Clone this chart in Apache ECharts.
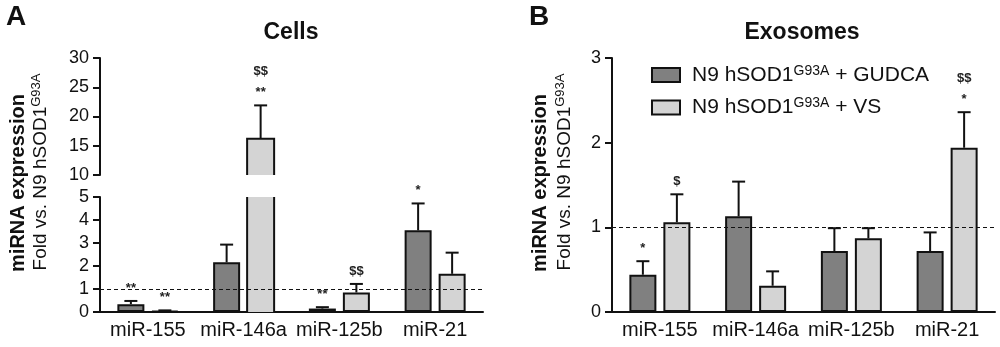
<!DOCTYPE html>
<html lang="en">
<head>
<meta charset="UTF-8">
<title>miRNA expression</title>
<style>
  html, body { margin: 0; padding: 0; background: #fff; }
  #main { width: 1000px; height: 347px; }
</style>
</head>
<body>
<div id="main"></div>
<script src="https://cdn.jsdelivr.net/npm/echarts@6/dist/echarts.min.js"></script>
<script>
// ---- data ----
const categories = ['miR-155', 'miR-146a', 'miR-125b', 'miR-21'];

// A: cells (mean, SEM)
const cellsGudca = [0.34, 2.16, 0.15, 3.55];
const cellsGudcaSem = [0.14, 0.77, 0.06, 1.17];
const cellsVs = [0.05, 16.2, 0.85, 1.66];
const cellsVsSem = [0.02, 5.7, 0.37, 0.92];
const cellsGudcaSig = ['**', '', '**', '*'];
const cellsVsSig = ['**', '$$\n**', '$$', ''];

// B: exosomes (mean, SEM)
const exoGudca = [0.44, 1.13, 0.72, 0.72];
const exoGudcaSem = [0.16, 0.41, 0.27, 0.22];
const exoVs = [1.06, 0.31, 0.87, 1.94];
const exoVsSem = [0.33, 0.17, 0.12, 0.42];
const exoGudcaSig = ['*', '', '', ''];
const exoVsSig = ['$', '', '', '$$\n*'];

const FONT = '"Liberation Sans", Arial, sans-serif';
const INK = '#111';
const DARK = '#808080';
const LIGHT = '#d4d4d4';
const BAR_W = 27;
const GAP = 7;
const CAP = 6.5;

function yAx(grid, min, max, step) {
  return {
    type: 'value', gridIndex: grid, min: min, max: max, interval: step,
    axisLine: { show: true, lineStyle: { color: INK, width: 2 } },
    axisTick: { show: true, length: 7, lineStyle: { color: INK, width: 2 } },
    axisLabel: { color: INK, fontSize: 18, fontFamily: FONT, margin: 11 },
    splitLine: { show: false }
  };
}

function xAx(grid, show) {
  return {
    type: 'category', gridIndex: grid, data: categories, show: show,
    axisLine: { lineStyle: { color: INK, width: 2 } },
    axisTick: { alignWithLabel: true, interval: 0, length: 6, lineStyle: { color: INK, width: 2 } },
    axisLabel: { interval: 0, color: INK, fontSize: 20, fontFamily: FONT, margin: 8 }
  };
}

// bars that run past the segment edge get no border; their open outline is drawn by the custom series
function bars(name, grid, values, lo, hi, color, refLine) {
  const data = values.map(v => {
    if (v === '-') return v;
    const broken = v > hi || (v >= lo && lo > 0);
    return broken ? { value: v, itemStyle: { borderWidth: 0 } } : v;
  });
  const s = {
    name: name, type: 'bar', xAxisIndex: grid, yAxisIndex: grid, data: data,
    barWidth: BAR_W, barGap: (GAP / BAR_W * 100) + '%', clip: true, silent: true,
    itemStyle: { color: color, borderColor: INK, borderWidth: 2 }
  };
  if (refLine) {
    s.markLine = {
      silent: true, symbol: 'none', label: { show: false },
      lineStyle: { color: INK, type: [4, 3], width: 1 },
      data: [{ yAxis: 1 }]
    };
  }
  return s;
}

// whisker (upper only) + cap + significance marks; open outline for broken bars
function errors(name, grid, means, sems, sigs, offset, lo, hi) {
  return {
    name: name, type: 'custom', xAxisIndex: grid, yAxisIndex: grid, z: 4, silent: true,
    data: means.map((m, i) => [i, m]),
    renderItem: function (params, api) {
      const i = params.dataIndex;
      const m = means[i];
      const ln = { stroke: INK, lineWidth: 2, fill: null };
      const x = api.coord([i, lo])[0] + offset;
      const yLo = api.coord([i, lo])[1];
      const yHi = api.coord([i, hi])[1];
      const l = x - BAR_W / 2, r = x + BAR_W / 2;
      if (m > hi) {
        // bar continues above this segment: sides only
        return {
          type: 'group', children: [
            { type: 'line', shape: { x1: l, y1: yLo, x2: l, y2: yHi }, style: ln },
            { type: 'line', shape: { x1: r, y1: yLo, x2: r, y2: yHi }, style: ln }
          ]
        };
      }
      if (m < lo) return;
      const p0 = api.coord([i, m]);
      const p1 = api.coord([i, m + sems[i]]);
      const kids = [
        { type: 'line', shape: { x1: x, y1: p0[1], x2: x, y2: p1[1] }, style: ln },
        { type: 'line', shape: { x1: x - CAP, y1: p1[1], x2: x + CAP, y2: p1[1] }, style: ln }
      ];
      if (lo > 0) {
        // bar comes up from the lower segment: no bottom edge
        kids.push({ type: 'polyline', shape: { points: [[l, yLo], [l, p0[1]], [r, p0[1]], [r, yLo]] }, style: ln });
      }
      const lines = sigs[i] ? sigs[i].split('\n').reverse() : [];
      lines.forEach(function (t, k) {
        kids.push({
          type: 'text', x: x, y: p1[1] - 13 - k * 21,
          style: { text: t, fill: '#222', font: 'bold 13px ' + FONT, align: 'center', verticalAlign: 'middle' }
        });
      });
      return { type: 'group', children: kids };
    }
  };
}

const above10 = v => (v > 10 ? v : '-');
const half = (BAR_W + GAP) / 2;

function axisTitle(boldX, foldX) {
  return [
    {
      type: 'text', x: boldX, y: 183, rotation: Math.PI / 2,
      style: { text: 'miRNA expression', font: 'bold 20px ' + FONT, fill: INK, align: 'center', verticalAlign: 'middle' }
    },
    {
      type: 'text', x: foldX, y: 172, rotation: Math.PI / 2,
      style: {
        text: '{n|Fold vs. N9 hSOD1}{s|G93A}', align: 'center', verticalAlign: 'middle',
        rich: {
          n: { fontSize: 19, fontFamily: FONT, fill: INK, lineHeight: 22 },
          s: { fontSize: 13, fontFamily: FONT, fill: INK, verticalAlign: 'top', lineHeight: 22 }
        }
      }
    }
  ];
}

function heading(x, y, text, size) {
  return {
    type: 'text', x: x, y: y,
    style: { text: text, font: 'bold ' + size + 'px ' + FONT, fill: INK, align: 'center', verticalAlign: 'middle' }
  };
}

const chart = echarts.init(document.getElementById('main'));
chart.setOption({
  animation: false,
  backgroundColor: '#fff',
  grid: [
    { left: 100, top: 58, width: 383, height: 117 },
    { left: 100, top: 197, width: 383, height: 115 },
    { left: 612, top: 58, width: 383, height: 254 }
  ],
  xAxis: [xAx(0, false), xAx(1, true), xAx(2, true)],
  yAxis: [yAx(0, 10, 30, 5), yAx(1, 0, 5, 1), yAx(2, 0, 3, 1)],
  legend: {
    data: ['GUDCA', 'VS'], orient: 'vertical', left: 646, top: 59,
    itemWidth: 28, itemHeight: 14, itemGap: 11, icon: 'rect', selectedMode: false,
    formatter: n => '{t|N9 hSOD1}{s|G93A}{t| + ' + n + '}',
    textStyle: {
      padding: [0, 0, 0, 7],
      rich: {
        t: { fontSize: 21, fontFamily: FONT, color: INK, lineHeight: 22 },
        s: { fontSize: 14, fontFamily: FONT, color: INK, verticalAlign: 'top', lineHeight: 22 }
      }
    }
  },
  series: [
    bars('GUDCA', 0, cellsGudca.map(above10), 10, 30, DARK),
    bars('VS', 0, cellsVs.map(above10), 10, 30, LIGHT),
    bars('GUDCA', 1, cellsGudca, 0, 5, DARK),
    bars('VS', 1, cellsVs, 0, 5, LIGHT, true),
    bars('GUDCA', 2, exoGudca, 0, 3, DARK),
    bars('VS', 2, exoVs, 0, 3, LIGHT, true),
    errors('eA1', 0, cellsGudca, cellsGudcaSem, cellsGudcaSig, -half, 10, 30),
    errors('eA2', 0, cellsVs, cellsVsSem, cellsVsSig, half, 10, 30),
    errors('eA3', 1, cellsGudca, cellsGudcaSem, cellsGudcaSig, -half, 0, 5),
    errors('eA4', 1, cellsVs, cellsVsSem, cellsVsSig, half, 0, 5),
    errors('eB1', 2, exoGudca, exoGudcaSem, exoGudcaSig, -half, 0, 3),
    errors('eB2', 2, exoVs, exoVsSem, exoVsSig, half, 0, 3)
  ],
  graphic: [
    heading(16, 17, 'A', 28),
    heading(539, 17, 'B', 28),
    heading(291, 33, 'Cells', 23),
    heading(802, 33, 'Exosomes', 23)
  ].concat(axisTitle(18, 41), axisTitle(540, 565))
});

window.onresize = function () {
  chart.resize();
};
</script>
</body>
</html>
